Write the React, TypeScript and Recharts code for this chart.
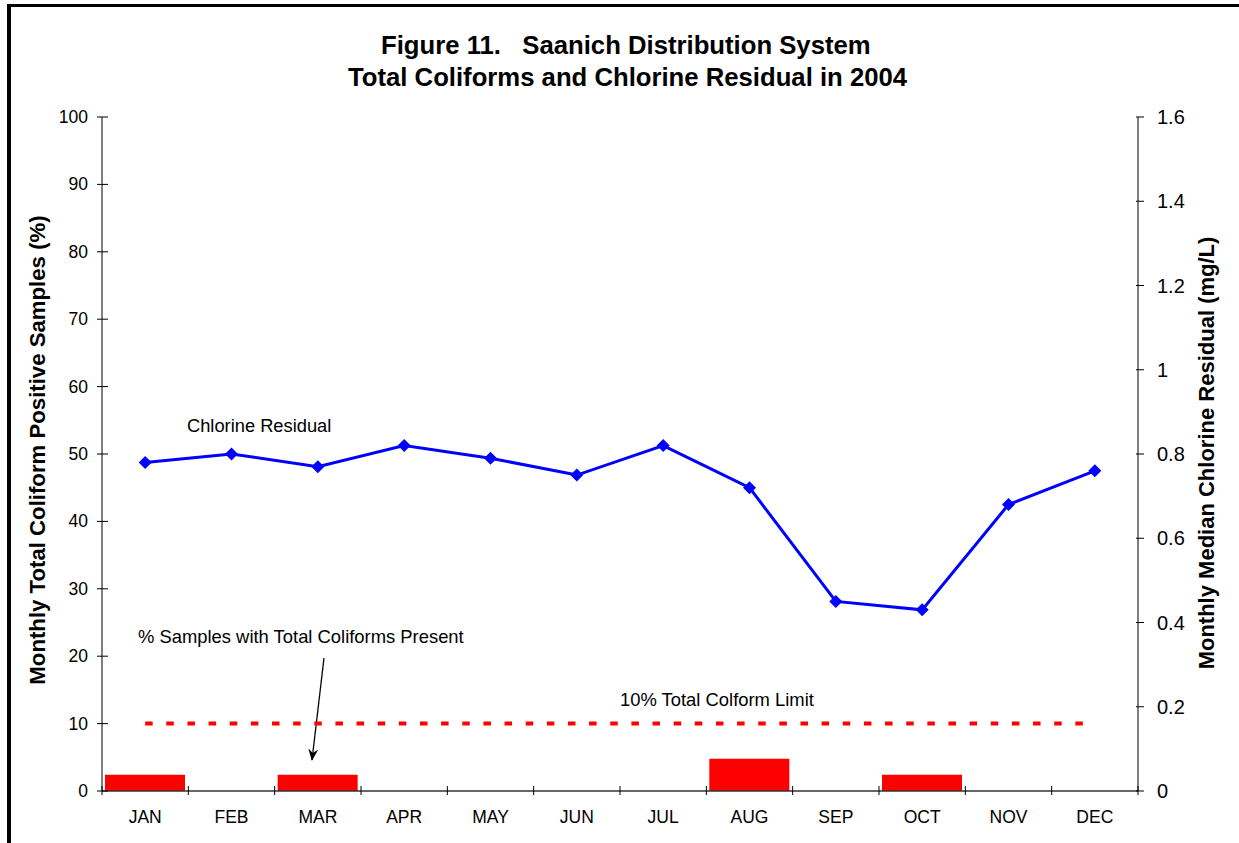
import React from 'react';
import { ComposedChart, Bar, Line, XAxis, YAxis, Customized } from 'recharts';

const months = ['JAN', 'FEB', 'MAR', 'APR', 'MAY', 'JUN', 'JUL', 'AUG', 'SEP', 'OCT', 'NOV', 'DEC'];
// % of samples with total coliforms present
const coliformPct = [2.4, 0, 2.4, 0, 0, 0, 0, 4.8, 0, 2.4, 0, 0];
// monthly median chlorine residual, mg/L
const chlorineMgL = [0.78, 0.8, 0.77, 0.82, 0.79, 0.75, 0.82, 0.72, 0.45, 0.43, 0.68, 0.76];
const coliformLimitPct = 10;

const leftTicks = [0, 10, 20, 30, 40, 50, 60, 70, 80, 90, 100];
const rightTicks = [0, 0.2, 0.4, 0.6, 0.8, 1, 1.2, 1.4, 1.6];

const chartData = months.map((m, i) => ({
  month: m,
  coliform: coliformPct[i],
  limit: coliformLimitPct,
  chlorine: chlorineMgL[i],
}));

const FONT = "Arial, 'Liberation Sans', sans-serif";
const W = 1239;
const H = 843;
const PLOT_LEFT = 102;
const PLOT_RIGHT = 1138;
const BAND = (PLOT_RIGHT - PLOT_LEFT) / months.length;

const Diamond = (props: any) => {
  const { cx, cy } = props;
  if (cx == null || cy == null) return null;
  const r = 6.5;
  return (
    <polygon
      points={`${cx},${cy - r} ${cx + r},${cy} ${cx},${cy + r} ${cx - r},${cy}`}
      fill="#0000FF"
    />
  );
};

// category label plus tick marks on the band edges
const MonthTick = (props: any) => {
  const { x, y, payload, index } = props;
  const left = x - BAND / 2;
  const right = x + BAND / 2;
  return (
    <g>
      <line x1={left} x2={left} y1={y - 5} y2={y + 4} stroke="#000" />
      {index === months.length - 1 && (
        <line x1={right} x2={right} y1={y - 5} y2={y + 4} stroke="#000" />
      )}
      <text x={x} y={y + 32} textAnchor="middle" fontSize={17.5} fontFamily={FONT} fill="#000">
        {payload.value}
      </text>
    </g>
  );
};

const LeftTick = (props: any) => {
  const { x, y, payload } = props;
  return (
    <g>
      <line x1={x - 5} x2={x + 6} y1={y} y2={y} stroke="#000" />
      <text x={x - 14} y={y + 6} textAnchor="end" fontSize={17.5} fontFamily={FONT} fill="#000">
        {payload.value}
      </text>
    </g>
  );
};

const RightTick = (props: any) => {
  const { x, y, payload } = props;
  return (
    <g>
      <line x1={x - 2} x2={x + 6} y1={y} y2={y} stroke="#000" />
      <text x={x + 19} y={y + 7} textAnchor="start" fontSize={20} fontFamily={FONT} fill="#000">
        {payload.value}
      </text>
    </g>
  );
};

const Annotations = () => (
  <g fontFamily={FONT} fill="#000">
    <defs>
      <marker id="arrowHead" viewBox="0 0 12 10" refX="11" refY="5" markerWidth="12" markerHeight="10"
        markerUnits="userSpaceOnUse" orient="auto">
        <path d="M0,0 L12,5 L0,10 L4,5 z" fill="#000" />
      </marker>
    </defs>
    <text x={381} y={54} fontSize={25.7} fontWeight="bold" style={{ whiteSpace: 'pre' }}>
      {'Figure 11.   Saanich Distribution System'}
    </text>
    <text x={348} y={86} fontSize={25.7} fontWeight="bold">
      Total Coliforms and Chlorine Residual in 2004
    </text>
    <text x={45} y={450} fontSize={22.2} fontWeight="bold" textAnchor="middle" transform="rotate(-90 45 450)">
      Monthly Total Coliform Positive Samples (%)
    </text>
    <text x={1214} y={453} fontSize={22} fontWeight="bold" textAnchor="middle" transform="rotate(-90 1214 453)">
      Monthly Median Chlorine Residual (mg/L)
    </text>
    <text x={187} y={432} fontSize={18.3}>Chlorine Residual</text>
    <text x={138} y={643} fontSize={18.4}>% Samples with Total Coliforms Present</text>
    <text x={620} y={706} fontSize={18.4}>10% Total Colform Limit</text>
    <line x1={324} y1={658} x2={312} y2={760} stroke="#000" strokeWidth={1.3} markerEnd="url(#arrowHead)" />
  </g>
);

export default function App() {
  return (
    <div style={{ position: 'fixed', left: 0, top: 0, width: W, height: H, overflow: 'hidden', background: '#fff' }}>
      <div
        style={{
          position: 'absolute',
          left: 7,
          top: 4,
          width: 1400,
          height: 1000,
          borderLeft: '4px solid #000',
          borderTop: '3px solid #000',
        }}
      />
      <div style={{ position: 'absolute', left: 0, top: 0 }}>
        <ComposedChart
          width={W}
          height={H}
          data={chartData}
          margin={{ top: 117, right: 41, bottom: 22, left: 42 }}
        >
          <XAxis
            dataKey="month"
            height={30}
            tickLine={false}
            tickSize={0}
            tickMargin={0}
            axisLine={{ stroke: '#333', strokeWidth: 1.5 }}
            tick={<MonthTick />}
            interval={0}
          />
          <YAxis
            yAxisId="left"
            width={60}
            domain={[0, 100]}
            ticks={leftTicks}
            interval={0}
            tickLine={false}
            tickSize={0}
            tickMargin={0}
            axisLine={{ stroke: '#000' }}
            tick={<LeftTick />}
          />
          <YAxis
            yAxisId="right"
            orientation="right"
            width={60}
            domain={[0, 1.6]}
            ticks={rightTicks}
            interval={0}
            tickLine={false}
            tickSize={0}
            tickMargin={0}
            axisLine={{ stroke: '#000' }}
            tick={<RightTick />}
          />
          <Bar yAxisId="left" dataKey="coliform" fill="#FF0000" barSize={80} isAnimationActive={false} />
          <Line
            yAxisId="left"
            dataKey="limit"
            stroke="#FF0000"
            strokeWidth={4}
            strokeDasharray="7.5 13.64"
            dot={false}
            activeDot={false}
            isAnimationActive={false}
          />
          <Line
            yAxisId="right"
            dataKey="chlorine"
            type="linear"
            stroke="#0000FF"
            strokeWidth={3}
            dot={(p: any) => <Diamond key={`d-${p.index}`} {...p} />}
            activeDot={false}
            isAnimationActive={false}
          />
          <Customized component={Annotations} />
        </ComposedChart>
      </div>
    </div>
  );
}
